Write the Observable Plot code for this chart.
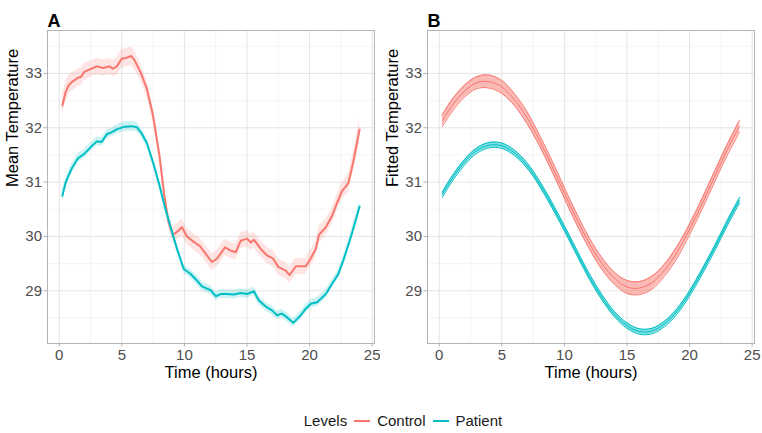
<!DOCTYPE html>
<html>
<head>
<meta charset="utf-8">
<script src="https://cdn.jsdelivr.net/npm/d3@7"></script>
<script src="https://cdn.jsdelivr.net/npm/@observablehq/plot@0.6"></script>
<style>
  html, body { margin: 0; padding: 0; background: #fff; }
  #wrap { position: relative; width: 762px; height: 433px; font-family: "Liberation Sans", Arial, sans-serif; }
  .panel { position: absolute; top: 0; }
  #legend { position: absolute; left: 0; width: 806px; top: 412px; text-align: center; font-size: 15px; color: #1a1a1a; white-space: nowrap; }
  #legend span.key { display: inline-block; width: 16px; height: 2px; vertical-align: middle; margin: 0 7px 0 7px; position: relative; top: -1px; }
</style>
</head>
<body>
<div id="wrap">
  <div id="pa" class="panel" style="left:0"></div>
  <div id="pb" class="panel" style="left:380px"></div>
  <div id="legend"></div>
</div>
<script>
// ---------- data ----------
const levels = ["Control", "Patient"];
const levelColors = ["#F8766D", "#00BFC4"];

// Panel A: observed mean temperature
const controlHours = [0.25,0.5,0.75,1.0,1.5,1.75,2.0,2.5,3.0,3.5,4.0,4.3,4.6,5.0,5.4,5.75,6.0,6.5,7.0,7.5,8.0,8.4,8.75,9.1,9.5,9.8,10.2,10.75,11.25,11.8,12.2,12.6,13.25,13.7,14.1,14.5,15.0,15.3,15.55,16.1,16.6,17.1,17.5,18.1,18.4,18.9,19.3,19.7,20.1,20.5,20.75,21.3,21.8,22.2,22.6,22.9,23.1,23.5,24.0];
const controlMean  = [32.41,32.65,32.78,32.84,32.92,32.94,33.03,33.08,33.13,33.10,33.13,33.09,33.13,33.27,33.29,33.32,33.25,33.02,32.72,32.22,31.50,30.75,30.25,30.03,30.10,30.17,30.00,29.90,29.82,29.65,29.53,29.59,29.80,29.74,29.71,29.92,29.96,29.89,29.94,29.77,29.65,29.59,29.44,29.37,29.29,29.45,29.45,29.45,29.60,29.77,30.03,30.17,30.38,30.62,30.84,30.92,30.98,31.38,31.97];
const controlSE    = [0.20,0.19,0.18,0.17,0.16,0.16,0.16,0.15,0.15,0.15,0.15,0.15,0.16,0.17,0.17,0.17,0.17,0.16,0.15,0.14,0.13,0.13,0.13,0.14,0.15,0.15,0.15,0.15,0.15,0.15,0.15,0.15,0.15,0.15,0.15,0.15,0.15,0.15,0.15,0.15,0.15,0.15,0.15,0.15,0.15,0.15,0.15,0.15,0.15,0.15,0.15,0.15,0.15,0.15,0.15,0.16,0.17,0.18,0.21];

const patientHours = [0.25,0.5,0.75,1.0,1.5,2.0,2.5,3.0,3.4,3.8,4.2,4.6,5.2,5.8,6.2,6.6,7.0,7.5,8.0,8.4,8.9,9.4,9.95,10.5,11.0,11.4,11.8,12.1,12.5,12.9,13.4,13.95,14.5,15.0,15.55,15.95,16.5,17.0,17.4,17.8,18.2,18.7,19.3,19.7,20.1,20.6,21.3,21.8,22.3,22.7,23.3,24.0];
const patientMean  = [30.75,30.98,31.12,31.25,31.44,31.52,31.64,31.75,31.74,31.88,31.92,31.97,32.02,32.03,32.01,31.89,31.72,31.36,30.95,30.58,30.17,29.78,29.40,29.31,29.19,29.08,29.04,29.01,28.90,28.94,28.94,28.93,28.96,28.94,28.99,28.82,28.71,28.64,28.55,28.58,28.51,28.41,28.55,28.67,28.76,28.79,28.94,29.13,29.31,29.56,29.99,30.55];
const patientSE    = [0.10,0.09,0.09,0.09,0.08,0.08,0.08,0.08,0.08,0.08,0.08,0.08,0.09,0.09,0.09,0.08,0.08,0.08,0.08,0.08,0.08,0.08,0.08,0.08,0.08,0.08,0.08,0.08,0.08,0.08,0.08,0.08,0.08,0.08,0.08,0.08,0.08,0.08,0.08,0.08,0.08,0.08,0.08,0.08,0.08,0.08,0.08,0.08,0.08,0.08,0.09,0.11];

// Panel B: fitted (cosinor) temperature
const fitHours    = [0.25,1,2,3,4,5,6,7,8,9,10,11,12,13,14,15,16,17,18,19,20,21,22,23,24];
const controlFit  = [32.13,32.40,32.67,32.83,32.85,32.75,32.52,32.19,31.77,31.30,30.80,30.31,29.87,29.50,29.23,29.07,29.05,29.15,29.38,29.71,30.13,30.60,31.10,31.59,32.03];
const controlFitSE= [0.11,0.11,0.11,0.11,0.12,0.12,0.11,0.11,0.10,0.10,0.10,0.10,0.10,0.11,0.11,0.12,0.12,0.12,0.11,0.11,0.10,0.10,0.10,0.10,0.11];
const patientFit  = [30.77,31.05,31.36,31.58,31.68,31.67,31.54,31.31,30.98,30.58,30.15,29.70,29.26,28.88,28.57,28.36,28.25,28.26,28.39,28.62,28.95,29.35,29.78,30.24,30.67];
const patientFitSE= [0.05,0.05,0.05,0.05,0.05,0.05,0.05,0.05,0.05,0.05,0.05,0.05,0.05,0.05,0.05,0.05,0.05,0.05,0.05,0.05,0.05,0.05,0.05,0.05,0.05];

// axes
const xTicks = [0, 5, 10, 15, 20, 25];
const xMinor = [2.5, 7.5, 12.5, 17.5, 22.5];
const yTicks = [29, 30, 31, 32, 33];
const yMinor = [28.5, 29.5, 30.5, 31.5, 32.5, 33.5];
const xDomain = [-0.9375, 25.1875];
const yDomain = [28.03, 33.79];

// ---------- build tables ----------
function rows(level, hours, mean, se) {
  return hours.map((h, i) => ({level, h, m: mean[i], lo: mean[i] - se[i], hi: mean[i] + se[i]}));
}
const dataA = [
  ...rows(levels[0], controlHours, controlMean, controlSE),
  ...rows(levels[1], patientHours, patientMean, patientSE)
];
const dataB = [
  ...rows(levels[0], fitHours, controlFit, controlFitSE),
  ...rows(levels[1], fitHours, patientFit, patientFitSE)
];

const colorScale = {domain: levels, range: levelColors};

function panel(tag, ytitle, seriesMarks, width, marginRight) {
  return Plot.plot({
    width, height: 390,
    marginLeft: 47, marginRight, marginTop: 30, marginBottom: 47,
    style: {fontFamily: "'Liberation Sans', Arial, sans-serif", fontSize: "15px", color: "#4d4d4d", background: "white", overflow: "visible"},
    x: {domain: xDomain, axis: null},
    y: {domain: yDomain, axis: null},
    color: colorScale,
    marks: [
      Plot.ruleX(xMinor, {stroke: "#f0f0f0", strokeWidth: 0.7}),
      Plot.ruleY(yMinor, {stroke: "#f0f0f0", strokeWidth: 0.7}),
      Plot.ruleX(xTicks, {stroke: "#e4e4e4", strokeWidth: 1}),
      Plot.ruleY(yTicks, {stroke: "#e4e4e4", strokeWidth: 1}),
      ...seriesMarks,
      Plot.frame({stroke: "#b3b3b3", strokeWidth: 1}),
      Plot.axisX({ticks: xTicks, tickFormat: d => String(d), tickSize: 3.5, tickPadding: 2, color: "#4d4d4d", stroke: "#b3b3b3", label: null, fontSize: 15}),
      Plot.axisY({ticks: yTicks, tickFormat: d => String(d), tickSize: 3.5, tickPadding: 2, color: "#4d4d4d", stroke: "#b3b3b3", label: null, fontSize: 15}),
      Plot.text([ytitle], {frameAnchor: "left", text: d => d, rotate: -90, dx: -35, fontSize: 16.5, fill: "#000"}),
      Plot.text(["Time (hours)"], {frameAnchor: "bottom", text: d => d, dy: 34, fontSize: 16.5, fill: "#000"}),
      Plot.text([tag], {frameAnchor: "top-left", text: d => d, textAnchor: "start", dx: 0, dy: -16, fontSize: 18, fontWeight: "bold", fill: "#000"})
    ]
  });
}

const marksA = [
  Plot.areaY(dataA, {x: "h", y1: "lo", y2: "hi", z: "level", fill: "level", fillOpacity: 0.2, curve: "linear"}),
  Plot.line(dataA, {x: "h", y: "m", z: "level", stroke: "level", strokeWidth: 2, curve: "linear"})
];
const marksB = [
  Plot.areaY(dataB, {x: "h", y1: "lo", y2: "hi", z: "level", fill: "level", fillOpacity: 0.5, curve: "catmull-rom"}),
  Plot.line(dataB, {x: "h", y: "lo", z: "level", stroke: "level", strokeWidth: 1, curve: "catmull-rom"}),
  Plot.line(dataB, {x: "h", y: "hi", z: "level", stroke: "level", strokeWidth: 1, curve: "catmull-rom"}),
  Plot.line(dataB, {x: "h", y: "m", z: "level", stroke: "level", strokeWidth: 1, curve: "catmull-rom"})
];

document.getElementById("pa").appendChild(panel("A", "Mean Temperature", marksA, 381, 7));
document.getElementById("pb").appendChild(panel("B", "Fitted Temperature", marksB, 382, 8));

// legend
const lg = document.getElementById("legend");
lg.innerHTML = '<span style="margin-right:0">Levels</span>' +
  levels.map((l, i) => `<span class="key" style="background:${levelColors[i]}"></span><span>${l}</span>`).join("");
</script>
</body>
</html>
